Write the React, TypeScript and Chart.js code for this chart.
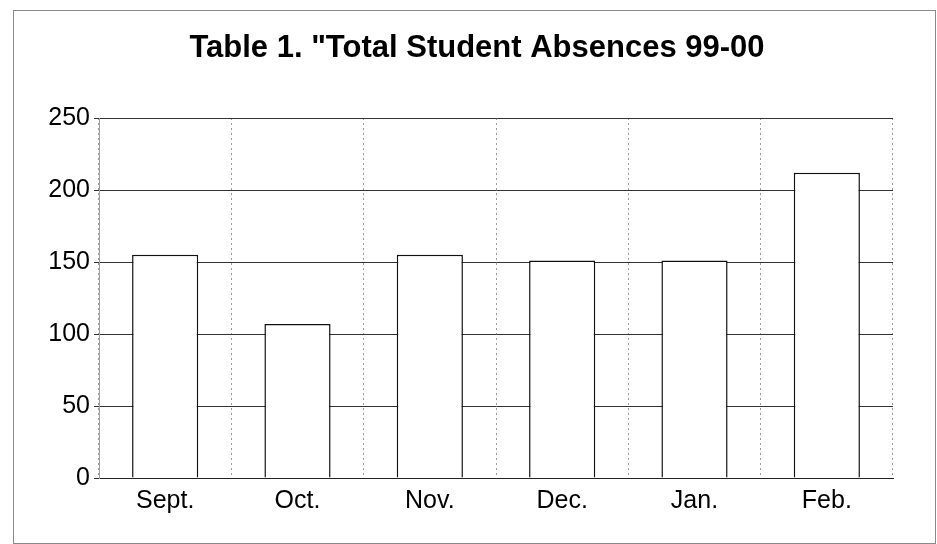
import React, { useEffect, useRef } from "react";
import { Chart, registerables } from "chart.js";

Chart.register(...registerables);

const categories: string[] = ["Sept.", "Oct.", "Nov.", "Dec.", "Jan.", "Feb."];
const absences: number[] = [155, 107, 155, 151, 151, 212];
const titleText = 'Table 1. "Total Student Absences 99-00';
const yMin = 0;
const yMax = 250;
const yStep = 50;

const FONT = "'Liberation Sans', Arial, sans-serif";

const titlePlugin = {
  id: "scanTitle",
  afterDraw(chart: any) {
    const ctx = chart.ctx as CanvasRenderingContext2D;
    ctx.save();
    ctx.font = `bold 31px ${FONT}`;
    ctx.fillStyle = "#000";
    ctx.textAlign = "center";
    ctx.textBaseline = "middle";
    ctx.fillText(titleText, 477, 48);
    ctx.restore();
  },
};

export default function App() {
  const canvasRef = useRef<HTMLCanvasElement | null>(null);

  useEffect(() => {
    const canvas = canvasRef.current;
    if (!canvas) return;
    const chart = new Chart(canvas, {
      type: "bar",
      data: {
        labels: categories,
        datasets: [
          {
            data: absences,
            backgroundColor: "#ffffff",
            borderColor: "#111111",
            borderWidth: 1.5,
            barPercentage: 0.5,
            categoryPercentage: 1,
          },
        ],
      },
      options: {
        animation: false,
        responsive: false,
        maintainAspectRatio: false,
        devicePixelRatio: 1,
        layout: { padding: { top: 118, right: 44, left: 0, bottom: 0 } },
        plugins: {
          legend: { display: false },
          tooltip: { enabled: false },
          title: { display: false },
        },
        scales: {
          x: {
            offset: true,
            grid: {
              display: true,
              offset: true,
              color: "#9a9a9a",
              lineWidth: 1,
              drawTicks: false,
            },
            border: { display: true, color: "#222222", width: 1, dash: [2, 3] },
            ticks: {
              color: "#000",
              padding: 8,
              font: { family: FONT, size: 25 },
            },
            afterFit(scale: any) {
              scale.height = 66;
            },
          },
          y: {
            min: yMin,
            max: yMax,
            grid: {
              color: "#333333",
              lineWidth: 1,
              drawTicks: true,
              tickLength: 5,
            },
            border: { display: true, color: "#a0a0a0", width: 1 },
            ticks: {
              stepSize: yStep,
              color: "#000",
              padding: 4,
              font: { family: FONT, size: 25 },
            },
            afterFit(scale: any) {
              scale.width = 99;
            },
          },
        },
      },
      plugins: [titlePlugin],
    });
    return () => chart.destroy();
  }, []);

  return (
    <div
      style={{
        position: "fixed",
        left: 0,
        top: 0,
        width: 937,
        height: 544,
        background: "#fff",
        overflow: "hidden",
      }}
    >
      <canvas ref={canvasRef} width={937} height={544} style={{ position: "absolute", left: 0, top: 0 }} />
      <div
        style={{
          position: "absolute",
          left: 13,
          top: 10,
          width: 921,
          height: 532,
          border: "1px solid #8a8a8a",
          pointerEvents: "none",
        }}
      />
    </div>
  );
}
